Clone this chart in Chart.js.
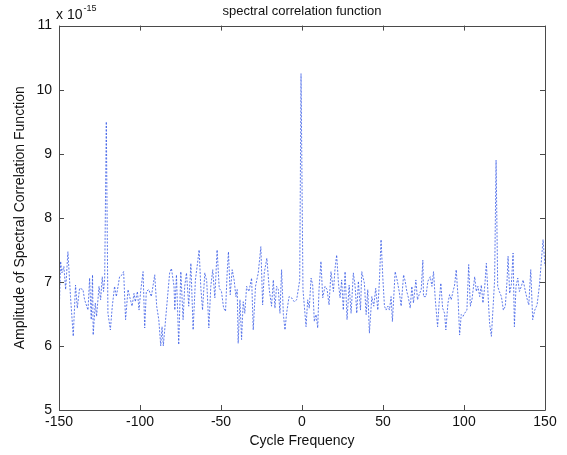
<!DOCTYPE html>
<html>
<head>
<meta charset="utf-8">
<script src="https://cdn.jsdelivr.net/npm/chart.js@4/dist/chart.umd.min.js"></script>
<style>
  html, body { margin: 0; padding: 0; background: #ffffff; }
  #wrap { width: 567px; height: 455px; position: relative; }
</style>
</head>
<body>
<div id="wrap"><canvas id="c" width="567" height="455"></canvas></div>
<script>
// Cycle frequency (x) and amplitude in units of 1e-15 (y)
const freq = [
  -150.0, -149.0, -148.2, -147.0, -145.9, -144.5, -142.9, -141.2, -139.8, -138.7,
  -137.3, -135.2, -134.2, -132.1, -131.1, -130.1, -129.3, -128.9, -127.6, -126.8,
  -125.3, -124.3, -123.3, -122.5, -121.8, -120.8, -119.8, -118.3, -117.1, -115.7,
  -114.6, -112.6, -111.1, -110.1, -108.9, -107.4, -106.2, -104.9, -103.7, -102.9,
  -101.6, -100.6, -99.6, -98.1, -97.1, -96.1, -94.6, -93.0, -90.9, -89.7,
  -88.4, -87.2, -86.4, -85.6, -83.7, -81.7, -80.6, -79.0,
  -78.5, -77.5, -76.1, -74.8, -73.4, -72.4, -71.3, -69.9, -68.6, -67.2,
  -65.8, -64.5, -63.5, -62.5, -61.4, -60.0, -58.8, -57.5, -56.3, -55.1,
  -53.8, -52.4, -51.1, -49.7, -48.4, -47.2, -46.2, -45.4, -44.3, -43.1,
  -41.9, -40.8, -40.0, -39.4, -38.3, -37.3, -36.3, -35.3, -34.2, -32.8,
  -31.1, -30.1, -28.7, -27.0, -25.4, -24.3, -23.3, -21.7, -20.2, -18.8,
  -17.7, -16.7, -15.7, -14.6, -13.6, -12.6, -11.5, -10.5, -9.5, -8.0,
  -6.4, -4.8, -3.3, -1.4, -0.6, 0.6, 2.5, 3.5, 4.5, 5.6,
  6.6, 7.6, 8.7, 9.7, 10.5, 11.7, 12.8, 14.2, 15.5, 16.7,
  17.9, 19.4, 20.4, 21.4, 22.5, 23.5, 24.5, 25.5, 26.6, 27.8,
  29.1, 30.3, 31.7, 32.8, 33.8, 34.8, 36.1, 36.9, 38.5, 39.6,
  40.6, 41.6, 43.1, 44.3, 45.5, 46.8, 47.8, 48.8, 49.9, 50.9,
  51.9, 53.0, 54.0, 55.0, 55.8, 57.5, 58.7, 60.0, 61.2, 62.7,
  63.7, 64.7, 65.7, 66.8, 67.8, 68.8, 70.3, 71.3, 72.3, 73.6,
  74.6, 75.0, 76.5, 77.7, 79.2, 80.2, 81.2, 82.2, 83.7, 84.7,
  85.7, 86.8, 88.0, 88.8, 90.1, 91.1, 92.1, 93.2, 94.2, 95.2,
  96.3, 97.3, 98.3, 99.4, 100.4, 101.8, 102.9, 103.9, 104.9, 106.6,
  107.6, 108.6, 109.7, 110.7, 111.7, 112.8, 113.8, 114.8, 115.8, 116.9,
  118.1, 118.9, 119.8, 120.8, 121.8, 123.1, 124.3, 125.5, 126.6, 127.2,
  128.2, 129.2, 130.3, 131.1, 132.1, 133.2, 134.2, 135.4, 136.5, 137.9,
  139.1, 140.0, 141.2, 142.4, 143.7, 145.1, 146.5, 147.8, 148.8, 150.0
];
const amp = [
  6.40, 7.32, 7.14, 7.24, 6.88, 7.47, 6.77, 6.15, 6.95, 6.59,
  6.90, 6.88, 6.72, 6.56, 7.06, 6.41, 7.11, 6.17, 6.67, 6.46,
  6.93, 6.72, 7.08, 6.85, 7.06, 9.50, 6.51, 6.25, 6.62, 6.93,
  6.77, 7.08, 7.11, 7.16, 6.41, 6.88, 6.75, 6.62, 6.82, 6.69,
  6.85, 6.56, 6.85, 7.16, 6.28, 6.85, 6.88, 6.77, 7.11, 6.62,
  6.41, 6.00, 6.30, 6.00, 6.56, 7.14, 7.21, 6.93,
  6.56, 7.11, 6.02, 7.16, 6.41, 6.93, 7.14, 6.62, 7.29, 6.25,
  7.03, 7.29, 7.50, 6.93, 6.56, 7.14, 7.01, 6.28, 6.93, 7.19,
  6.75, 7.50, 6.90, 6.85, 6.59, 6.54, 7.14, 7.47, 6.80, 7.19,
  7.03, 6.77, 6.88, 6.04, 6.72, 6.10, 6.69, 6.51, 6.93, 6.85,
  7.06, 6.25, 6.93, 7.14, 7.55, 6.64, 7.14, 7.37, 6.88, 6.62,
  7.03, 6.59, 6.93, 6.88, 6.51, 7.19, 6.49, 6.25, 6.51, 6.77,
  6.75, 6.69, 6.72, 7.03, 10.25, 6.88, 6.30, 6.72, 6.59, 7.06,
  6.95, 6.38, 6.49, 6.28, 6.88, 7.32, 6.75, 6.93, 6.88, 6.64,
  7.16, 6.85, 7.21, 7.42, 6.98, 6.75, 7.03, 6.56, 7.16, 6.41,
  6.95, 6.51, 7.14, 6.93, 6.51, 7.01, 6.56, 7.16, 6.98, 6.49,
  6.88, 6.20, 6.77, 6.62, 6.90, 6.56, 7.03, 7.66, 7.06, 6.62,
  6.56, 6.62, 6.56, 6.77, 6.38, 7.16, 7.03, 6.85, 6.62, 7.11,
  7.01, 6.85, 6.75, 6.59, 6.93, 6.67, 7.03, 6.72, 6.80, 6.88,
  7.34, 6.77, 6.77, 7.01, 7.08, 6.93, 7.16, 6.75, 6.30, 6.69,
  6.98, 6.59, 6.51, 6.25, 6.67, 6.80, 6.72, 6.85, 6.95, 7.19,
  6.77, 6.17, 6.49, 6.46, 6.51, 6.56, 7.27, 6.62, 6.72, 7.08,
  6.85, 6.93, 6.77, 6.95, 6.67, 6.93, 7.29, 6.82, 6.35, 6.15,
  6.67, 7.03, 8.90, 6.93, 6.85, 6.77, 6.56, 6.62, 7.03, 7.40,
  6.82, 6.95, 7.45, 6.30, 6.93, 7.06, 6.85, 6.93, 7.03, 6.85,
  6.72, 6.64, 7.19, 6.41, 6.56, 6.64, 6.93, 7.34, 7.66, 7.25
];
const xTicks = [-150, -100, -50, 0, 50, 100, 150];
const yTicks = [5, 6, 7, 8, 9, 10, 11];
const titleText = 'spectral correlation function';
const xTitle = 'Cycle Frequency';
const yTitle = 'Amplitude of Spectral Correlation Function';
const exponentBase = 'x 10';
const exponentPower = '-15';

const FONT = "'Liberation Sans', Arial, sans-serif";

const framePlugin = {
  id: 'matlabFrame',
  afterLayout(chart) {
    // centre the title over the axes box, as MATLAB does
    const t = chart.titleBlock;
    if (t) {
      t.left = chart.chartArea.left;
      t.right = chart.chartArea.right;
      t.width = t.right - t.left;
    }
  },
  afterDatasetsDraw(chart) {
    const { ctx, chartArea: a, scales } = chart;
    ctx.save();
    ctx.strokeStyle = '#4a4a4a';
    ctx.lineWidth = 1;
    ctx.beginPath();
    ctx.rect(Math.round(a.left) + 0.5, Math.round(a.top) + 0.5,
             Math.round(a.right - a.left), Math.round(a.bottom - a.top));
    ctx.stroke();
    const L = 5;
    ctx.beginPath();
    xTicks.forEach(v => {
      const px = Math.round(scales.x.getPixelForValue(v)) + 0.5;
      ctx.moveTo(px, a.bottom); ctx.lineTo(px, a.bottom - L);
      ctx.moveTo(px, a.top); ctx.lineTo(px, a.top + L);
    });
    yTicks.forEach(v => {
      const py = Math.round(scales.y.getPixelForValue(v)) + 0.5;
      ctx.moveTo(a.left, py); ctx.lineTo(a.left + L, py);
      ctx.moveTo(a.right, py); ctx.lineTo(a.right - L, py);
    });
    ctx.stroke();
    // exponent label
    ctx.fillStyle = '#111';
    ctx.textBaseline = 'alphabetic';
    ctx.textAlign = 'left';
    ctx.font = '14px ' + FONT;
    const bx = a.left - 3;
    ctx.fillText(exponentBase, bx, a.top - 7);
    const w = ctx.measureText(exponentBase).width;
    ctx.font = '9px ' + FONT;
    ctx.fillText(exponentPower, bx + w + 1, a.top - 15);
    ctx.restore();
  }
};

new Chart(document.getElementById('c'), {
  type: 'line',
  data: {
    datasets: [{
      data: freq.map((f, i) => ({ x: f, y: amp[i] })),
      borderColor: 'rgba(55,90,230,0.8)',
      borderWidth: 1,
      borderDash: [2, 1.5],
      pointRadius: 0,
      tension: 0,
      fill: false
    }]
  },
  options: {
    responsive: false,
    animation: false,
    devicePixelRatio: 1,
    layout: { padding: { top: 0, right: 22, bottom: 0, left: 12 } },
    plugins: {
      legend: { display: false },
      tooltip: { enabled: false },
      title: {
        display: true,
        text: titleText,
        color: '#111',
        font: { family: FONT, size: 13, weight: 'normal' },
        padding: { top: 4, bottom: 6 }
      }
    },
    scales: {
      x: {
        type: 'linear',
        min: -150, max: 150,
        afterBuildTicks: s => { s.ticks = xTicks.map(v => ({ value: v })); },
        grid: { display: false, drawTicks: false },
        border: { display: false },
        ticks: { color: '#111', font: { family: FONT, size: 14 }, padding: 4, maxRotation: 0 },
        title: { display: true, text: xTitle, color: '#111', font: { family: FONT, size: 14 }, padding: { top: 0, bottom: 5 } },
        afterFit: s => { s.height = 45; }
      },
      y: {
        type: 'linear',
        min: 5, max: 11,
        afterBuildTicks: s => { s.ticks = yTicks.map(v => ({ value: v })); },
        grid: { display: false, drawTicks: false },
        border: { display: false },
        ticks: { color: '#111', font: { family: FONT, size: 14 }, padding: 7 },
        title: { display: true, text: yTitle, color: '#111', font: { family: FONT, size: 14 }, padding: { top: 0, bottom: 6 } },
        afterFit: s => { s.width = 47; }
      }
    }
  },
  plugins: [framePlugin]
});
</script>
</body>
</html>
